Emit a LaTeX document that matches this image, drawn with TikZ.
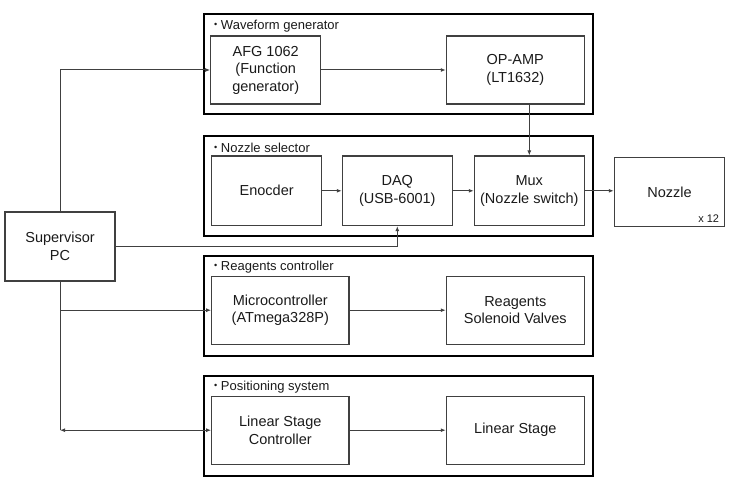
\documentclass[tikz,border=0pt]{standalone}
\usepackage{fontspec}
\setmainfont{Liberation Sans}
\usetikzlibrary{arrows.meta}
\definecolor{ln}{HTML}{404040}
\definecolor{tx}{HTML}{1A1A1A}
\tikzset{
  blk/.style={draw=ln, line width=1.1pt, rectangle, align=center, text=tx,
    font=\fontsize{14.5}{17.5}\selectfont, inner sep=0pt, minimum height=68pt},
  grp/.style={draw=black, line width=1.8pt},
  gtitle/.style={anchor=west, inner sep=0pt, text=tx, font=\fontsize{13}{15}\selectfont},
  arr/.style={draw=ln, line width=1pt, -{Latex[length=5pt,width=4pt]}},
  barr/.style={draw=ln, line width=1pt, {Latex[length=5pt,width=4pt]}-{Latex[length=5pt,width=4pt]}},
  ln/.style={draw=ln, line width=1pt}
}
\newcommand{\smbul}{\raisebox{0.25ex}{\scalebox{0.7}{•}}}
\begin{document}
\begin{tikzpicture}[x=1pt,y=-1pt]
\useasboundingbox (0,0) rectangle (734,489);
% groups
\draw[grp] (204,14) rectangle (593,114);
\draw[grp] (204,136) rectangle (593,236);
\draw[grp] (204,256) rectangle (593,356);
\draw[grp] (204,376) rectangle (593,476);
\node[gtitle] (t1) at (214,26) {\smbul\ Waveform generator};
\node[gtitle] (t2) at (214,147.5) {\smbul\ Nozzle selector};
\node[gtitle] (t3) at (214,267) {\smbul\ Reagents controller};
\node[gtitle] (t4) at (214,387) {\smbul\ Positioning system};
% blocks
\node[blk, minimum width=110pt] (afg) at (265.7,70) {AFG 1062\\(Function\\generator)};
\node[blk, minimum width=138pt] (opamp) at (515.3,70) {OP-AMP\\(LT1632)};
\node[blk, minimum width=110pt, minimum height=69.5pt] (enc) at (266.7,190.8) {Enocder};
\node[blk, minimum width=110pt, minimum height=69.5pt] (daq) at (397.3,190.8) {DAQ\\(USB-6001)};
\node[blk, minimum width=110pt, minimum height=69.5pt] (mux) at (529.3,190.8) {Mux\\(Nozzle switch)};
\node[blk, minimum width=110.4pt, minimum height=69.4pt] (noz) at (669.5,192) {Nozzle};
\node[anchor=south east, inner sep=0pt, text=tx, font=\fontsize{11}{13}\selectfont] (x12) at ([xshift=-6pt,yshift=5pt]noz.south east) {x 12};
\node[blk, minimum width=110pt, minimum height=69pt] (sup) at (60,246.5) {Supervisor\\PC};
\node[blk, minimum width=137.3pt] (mcu) at (280.3,310.2) {Microcontroller\\(ATmega328P)};
\node[blk, minimum width=138pt] (rsv) at (515.3,310.2) {Reagents\\Solenoid Valves};
\node[blk, minimum width=137.3pt] (lsc) at (280.3,430.2) {Linear Stage\\Controller};
\node[blk, minimum width=138pt] (ls) at (515.3,430.2) {Linear Stage};
% connectors
\draw[arr] (sup.north) |- (afg.west);
\draw[arr] (afg.east) -- (opamp.west);
\draw[arr] (mux.north |- opamp.south) -- (mux.north);
\draw[arr] (enc.east) -- (daq.west);
\draw[arr] (daq.east) -- (mux.west);
\draw[arr] (mux.east) -- (mux.east -| noz.west);
\draw[arr] (sup.east) -| (daq.south);
\coordinate (tap) at (sup.south |- lsc.west);
\draw[ln] (sup.south) -- (tap);
\draw[arr] (sup.south |- mcu.west) -- (mcu.west);
\draw[barr] (tap) -- (lsc.west);
\draw[arr] (mcu.east) -- (rsv.west);
\draw[arr] (lsc.east) -- (ls.west);
\end{tikzpicture}
\end{document}
